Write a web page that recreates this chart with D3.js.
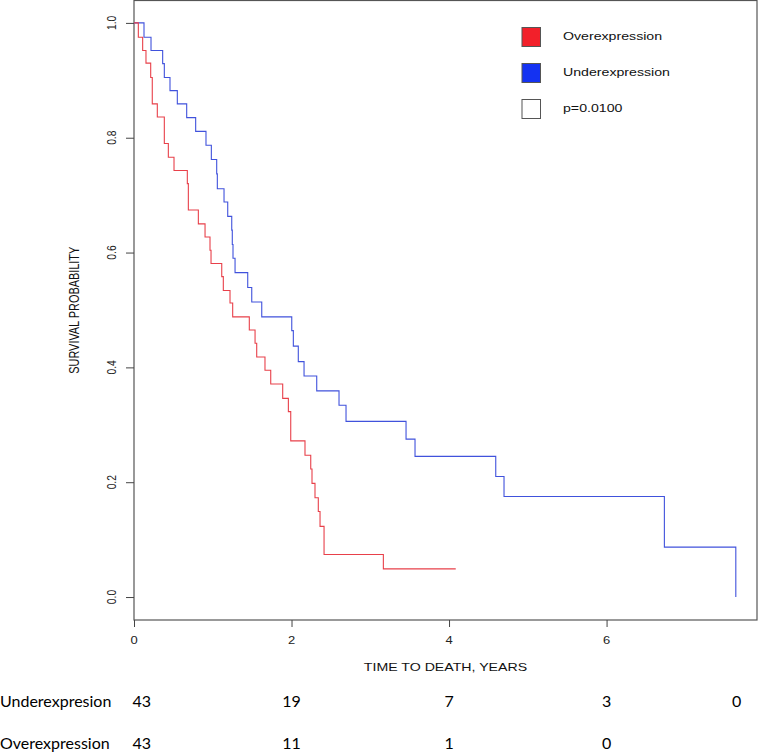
<!DOCTYPE html>
<html>
<head>
<meta charset="utf-8">
<script src="https://cdn.jsdelivr.net/npm/d3@7"></script>
<style>
  body { margin: 0; background: #fff; }
  svg { display: block; }
</style>
</head>
<body>
<div id="chart-area"><svg></svg></div>
<script>
// Kaplan-Meier steps (time in years, survival)
const overTimes = [0, 0.055, 0.110, 0.152, 0.212, 0.232, 0.296, 0.385, 0.436, 0.508, 0.677, 0.690,
  0.817, 0.902, 0.965, 0.978, 1.114, 1.134, 1.219, 1.253, 1.464, 1.537, 1.558, 1.663, 1.736,
  1.888, 1.960, 1.990, 2.171, 2.244, 2.260, 2.298, 2.340, 2.362, 2.413, 3.166, 4.085];
const overSurv = [1, 0.975, 0.952, 0.930, 0.905, 0.859, 0.836, 0.790, 0.766, 0.743, 0.720, 0.674,
  0.650, 0.627, 0.604, 0.581, 0.558, 0.534, 0.512, 0.488, 0.465, 0.442, 0.418, 0.395, 0.371,
  0.346, 0.323, 0.272, 0.247, 0.223, 0.198, 0.173, 0.149, 0.123, 0.074, 0.049, 0.049];

const underTimes = [0, 0.127, 0.216, 0.364, 0.385, 0.457, 0.550, 0.669, 0.783, 0.914, 0.982, 1.050,
  1.058, 1.143, 1.190, 1.241, 1.248, 1.257, 1.283, 1.444, 1.495, 1.622, 2.003, 2.023, 2.086,
  2.159, 2.320, 2.603, 2.692, 3.454, 3.568, 4.593, 4.698, 6.734, 7.641];
const underSurv = [1, 0.975, 0.952, 0.929, 0.905, 0.882, 0.859, 0.835, 0.811, 0.787, 0.762, 0.737,
  0.711, 0.688, 0.663, 0.639, 0.614, 0.590, 0.565, 0.539, 0.514, 0.488, 0.464, 0.437, 0.410,
  0.385, 0.359, 0.334, 0.306, 0.275, 0.245, 0.210, 0.175, 0.087, 0];

const xTicks = [0, 2, 4, 6];
const yTicks = [0, 0.2, 0.4, 0.6, 0.8, 1.0];

const legendLabels = ["Overexpression", "Underexpression", "p=0.0100"];
const legendColors = ["#f2202a", "#1432f2", "#ffffff"];

const riskGroups = ["Underexpresion", "Overexpression"];
const riskTimes = [0.1, 2, 4, 6, 7.65];
const riskUnder = [43, 19, 7, 3, 0];
const riskOver = [43, 11, 1, 0];

const chartSize = { width: 761, height: 753 };
const box = { left: 134, right: 757, top: 0.5, bottom: 620 };
const stretch = 1.3; // the R text in the picture is widened

const svg = d3
  .select("#chart-area svg")
  .attr("width", chartSize.width)
  .attr("height", chartSize.height)
  .style("font-family", "'Liberation Sans', Arial, sans-serif");

const x = d3.scaleLinear().domain([0, 7.91]).range([box.left, box.right]);
const y = d3.scaleLinear().domain([-0.04, 1.039]).range([box.bottom, box.top]);

// plot frame
svg
  .append("rect")
  .attr("x", box.left)
  .attr("y", box.top)
  .attr("width", box.right - box.left)
  .attr("height", box.bottom - box.top)
  .attr("fill", "none")
  .attr("stroke", "#555")
  .attr("stroke-width", 1.2);

// axes
const xAxis = svg
  .append("g")
  .attr("transform", `translate(0,${box.bottom})`)
  .call(d3.axisBottom(x).tickValues(xTicks).tickSize(7).tickFormat(""));
const yAxis = svg
  .append("g")
  .attr("transform", `translate(${box.left},0)`)
  .call(d3.axisLeft(y).tickValues(yTicks).tickSize(8).tickFormat(""));
[xAxis, yAxis].forEach(a => {
  a.select(".domain").remove();
  a.selectAll("line").attr("stroke", "#444");
});

svg
  .selectAll(".xlab")
  .data(xTicks)
  .enter()
  .append("text")
  .attr("class", "xlab")
  .attr("transform", d => `translate(${x(d)},641) scale(${stretch},1)`)
  .attr("text-anchor", "middle")
  .attr("dominant-baseline", "central")
  .attr("font-size", 10)
  .attr("fill", "#222")
  .text(d => d);

svg
  .selectAll(".ylab")
  .data(yTicks)
  .enter()
  .append("text")
  .attr("class", "ylab")
  .attr("transform", d => `translate(112,${y(d)}) scale(${stretch},1) rotate(-90)`)
  .attr("text-anchor", "middle")
  .attr("dominant-baseline", "central")
  .attr("font-size", 10.3)
  .attr("fill", "#222")
  .text(d => d3.format(".1f")(d));

svg
  .append("text")
  .attr("transform", `translate(${(box.left + box.right) / 2},668) scale(${stretch},1)`)
  .attr("text-anchor", "middle")
  .attr("dominant-baseline", "central")
  .attr("font-size", 10.9)
  .attr("fill", "#111")
  .text("TIME TO DEATH, YEARS");

svg
  .append("text")
  .attr("transform", `translate(75,${(box.top + box.bottom) / 2}) scale(${stretch},1) rotate(-90)`)
  .attr("text-anchor", "middle")
  .attr("dominant-baseline", "central")
  .attr("font-size", 10.9)
  .attr("fill", "#111")
  .text("SURVIVAL PROBABILITY");

// survival curves
const line = d3
  .line()
  .curve(d3.curveStepAfter)
  .x(d => x(d[0]))
  .y(d => y(d[1]));

svg
  .append("path")
  .attr("d", line(d3.zip(underTimes, underSurv)))
  .attr("fill", "none")
  .attr("stroke", "#4052dc")
  .attr("stroke-width", 1.1);

svg
  .append("path")
  .attr("d", line(d3.zip(overTimes, overSurv)))
  .attr("fill", "none")
  .attr("stroke", "#e8404a")
  .attr("stroke-width", 1.1);

// legend
const legend = svg
  .selectAll(".legend")
  .data(legendLabels)
  .enter()
  .append("g")
  .attr("class", "legend")
  .attr("transform", (d, i) => `translate(522,${27.5 + i * 36})`);

legend
  .append("rect")
  .attr("width", 18.5)
  .attr("height", 19)
  .attr("fill", (d, i) => legendColors[i])
  .attr("stroke", "#555")
  .attr("stroke-width", 1);

legend
  .append("text")
  .attr("transform", `translate(41,9.5) scale(${stretch},1)`)
  .attr("dominant-baseline", "central")
  .attr("font-size", 10.9)
  .attr("fill", "#111")
  .text(d => d);

// numbers at risk table
const riskRows = [riskUnder, riskOver];
const rowY = [700, 742];

riskRows.forEach((row, r) => {
  svg
    .append("text")
    .attr("x", 0)
    .attr("y", rowY[r])
    .attr("dominant-baseline", "central")
    .attr("font-family", "Lato, 'Open Sans', sans-serif")
    .attr("font-size", 16)
    .attr("fill", "#000")
    .text(riskGroups[r]);

  svg
    .selectAll(`.risk${r}`)
    .data(row)
    .enter()
    .append("text")
    .attr("class", `risk${r}`)
    .attr("x", (d, i) => x(riskTimes[i]))
    .attr("y", rowY[r])
    .attr("text-anchor", "middle")
    .attr("dominant-baseline", "central")
    .attr("font-family", "Lato, 'Open Sans', sans-serif")
    .attr("font-size", 16)
    .attr("fill", "#000")
    .text(d => d);
});
</script>
</body>
</html>
